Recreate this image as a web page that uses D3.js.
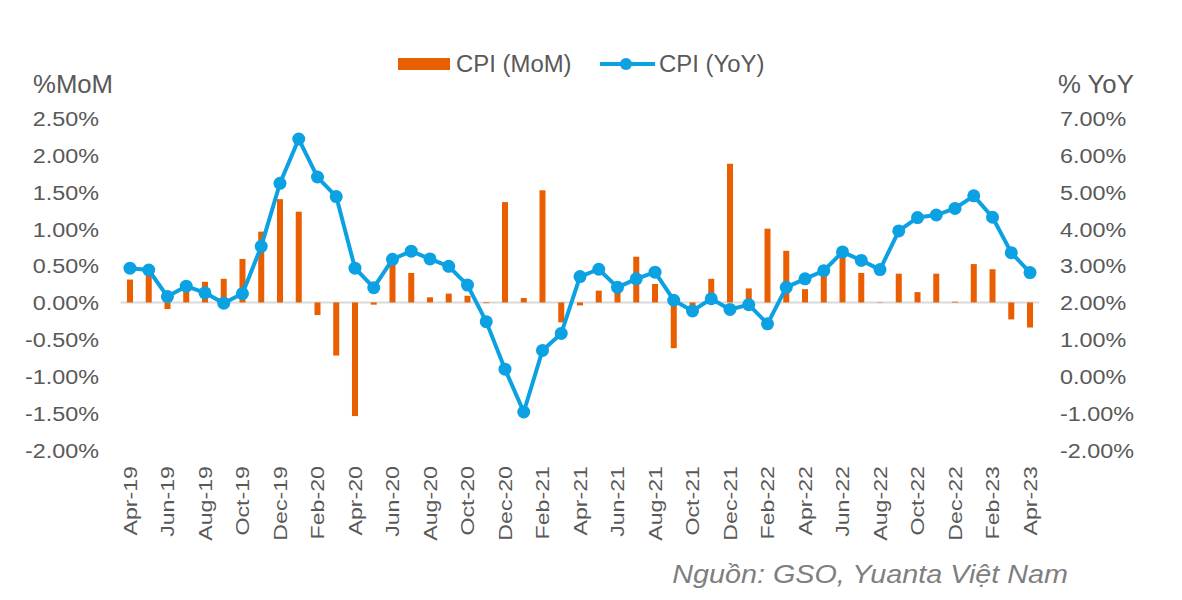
<!DOCTYPE html>
<html>
<head>
<meta charset="utf-8">
<script src="https://cdn.jsdelivr.net/npm/d3@7"></script>
<style>
  body { margin: 0; background: #fff; }
  text { font-family: "Liberation Sans", Arial, sans-serif; fill: #595959; }
</style>
</head>
<body>
<svg id="chart" width="1182" height="600"></svg>
<script>
const months = ["Apr-19","May-19","Jun-19","Jul-19","Aug-19","Sep-19","Oct-19","Nov-19","Dec-19","Jan-20","Feb-20","Mar-20",
  "Apr-20","May-20","Jun-20","Jul-20","Aug-20","Sep-20","Oct-20","Nov-20","Dec-20","Jan-21","Feb-21","Mar-21",
  "Apr-21","May-21","Jun-21","Jul-21","Aug-21","Sep-21","Oct-21","Nov-21","Dec-21","Jan-22","Feb-22","Mar-22",
  "Apr-22","May-22","Jun-22","Jul-22","Aug-22","Sep-22","Oct-22","Nov-22","Dec-22","Jan-23","Feb-23","Mar-23","Apr-23"];
const cpiMoM = [0.31,0.49,-0.09,0.18,0.28,0.32,0.59,0.96,1.40,1.23,-0.17,-0.72,
  -1.54,-0.03,0.66,0.40,0.07,0.12,0.09,-0.01,1.36,0.06,1.52,-0.27,
  -0.04,0.16,0.19,0.62,0.25,-0.62,-0.05,0.32,1.88,0.19,1.00,0.70,
  0.18,0.38,0.69,0.40,0.005,0.39,0.14,0.39,0.01,0.52,0.45,-0.23,-0.34];
const cpiYoY = [2.93,2.88,2.16,2.44,2.26,1.98,2.24,3.52,5.23,6.43,5.40,4.87,
  2.93,2.40,3.17,3.39,3.18,2.98,2.47,1.48,0.19,-0.97,0.70,1.16,
  2.70,2.90,2.41,2.64,2.82,2.06,1.77,2.10,1.81,1.94,1.42,2.41,
  2.64,2.86,3.37,3.14,2.89,3.94,4.30,4.37,4.55,4.89,4.31,3.35,2.81];
const leftTicks = [-2,-1.5,-1,-0.5,0,0.5,1,1.5,2,2.5];
const rightTicks = [-2,-1,0,1,2,3,4,5,6,7];
const xLabels = months.filter((d,i) => i % 2 === 0);

const svg = d3.select("#chart");
const plotTop = 118, plotBottom = 450;
const x = d3.scaleBand().domain(months).range([120.6, 1039.4]).paddingInner(0.68).paddingOuter(0.34);
const yL = d3.scaleLinear().domain([-2, 2.5]).range([plotBottom, plotTop]);
const yR = d3.scaleLinear().domain([-2, 7]).range([plotBottom, plotTop]);
const cx = d => x(d) + x.bandwidth() / 2;
const orange = "#e85e00", blue = "#0ba1e2";
const pct = d => d3.format(".2f")(d).replace("\u2212", "-") + "%";
const FONT = "'Liberation Sans', Arial, sans-serif";

// Left axis
const gL = svg.append("g").attr("transform", "translate(99,0)")
  .call(d3.axisLeft(yL).tickValues(leftTicks).tickSize(0).tickPadding(0).tickFormat(pct));
gL.select(".domain").remove();
gL.selectAll("text").attr("font-size", 20.5).attr("dy", "0.36em").attr("transform", "scale(1.14,1)")
  .style("fill", "#595959").style("font-family", FONT);

// Right axis
const gR = svg.append("g").attr("transform", "translate(1060,0)")
  .call(d3.axisRight(yR).tickValues(rightTicks).tickSize(0).tickPadding(0).tickFormat(pct));
gR.select(".domain").remove();
gR.selectAll("text").attr("font-size", 20.5).attr("dy", "0.36em").attr("transform", "scale(1.14,1)")
  .style("fill", "#595959").style("font-family", FONT);

// Zero line
svg.append("line").attr("x1", 120.6).attr("x2", 1039.4).attr("y1", yL(0)).attr("y2", yL(0))
  .attr("stroke", "#d9d9d9").attr("stroke-width", 2);

// Bars
svg.append("g").selectAll("rect").data(months).join("rect")
  .attr("x", d => x(d))
  .attr("width", x.bandwidth())
  .attr("y", (d,i) => yL(Math.max(0, cpiMoM[i])))
  .attr("height", (d,i) => Math.abs(yL(cpiMoM[i]) - yL(0)))
  .attr("fill", orange);

// Line
const line = d3.line().x((d,i) => cx(months[i])).y(d => yR(d));
svg.append("path").datum(cpiYoY).attr("d", line).attr("fill", "none")
  .attr("stroke", blue).attr("stroke-width", 4).attr("stroke-linejoin", "round");
svg.append("g").selectAll("circle").data(cpiYoY).join("circle")
  .attr("cx", (d,i) => cx(months[i])).attr("cy", d => yR(d)).attr("r", 6.5).attr("fill", blue);

// X axis labels
const gX = svg.append("g").attr("transform", "translate(0,466)")
  .call(d3.axisBottom(x).tickValues(xLabels).tickSize(0).tickPadding(0));
gX.select(".domain").remove();
gX.selectAll("text").attr("font-size", 19).attr("text-anchor", "end")
  .attr("transform", "rotate(-90) scale(1.22,1)").attr("x", 0).attr("y", 0).attr("dy", "0.36em")
  .style("fill", "#595959").style("font-family", FONT);

// Axis titles
svg.append("text").attr("transform", "translate(33,93) scale(1.03,1)").attr("font-size", 25).text("%MoM");
svg.append("text").attr("transform", "translate(1058,93) scale(1.03,1)").attr("font-size", 25).text("% YoY");

// Legend
svg.append("rect").attr("x", 398).attr("y", 58).attr("width", 52).attr("height", 12).attr("fill", orange);
svg.append("text").attr("transform", "translate(456,72) scale(1.04,1)").attr("font-size", 23).text("CPI (MoM)");
svg.append("line").attr("x1", 600).attr("x2", 655).attr("y1", 64).attr("y2", 64).attr("stroke", blue).attr("stroke-width", 4);
svg.append("circle").attr("cx", 626).attr("cy", 64).attr("r", 6).attr("fill", blue);
svg.append("text").attr("transform", "translate(659,72) scale(1.04,1)").attr("font-size", 23).text("CPI (YoY)");

// Source
svg.append("text").attr("transform", "translate(1068,583) scale(1.15,1)").attr("text-anchor", "end").attr("font-size", 25)
  .attr("font-style", "italic").style("fill", "#7f7f7f").text("Nguồn: GSO, Yuanta Việt Nam");
</script>
</body>
</html>
